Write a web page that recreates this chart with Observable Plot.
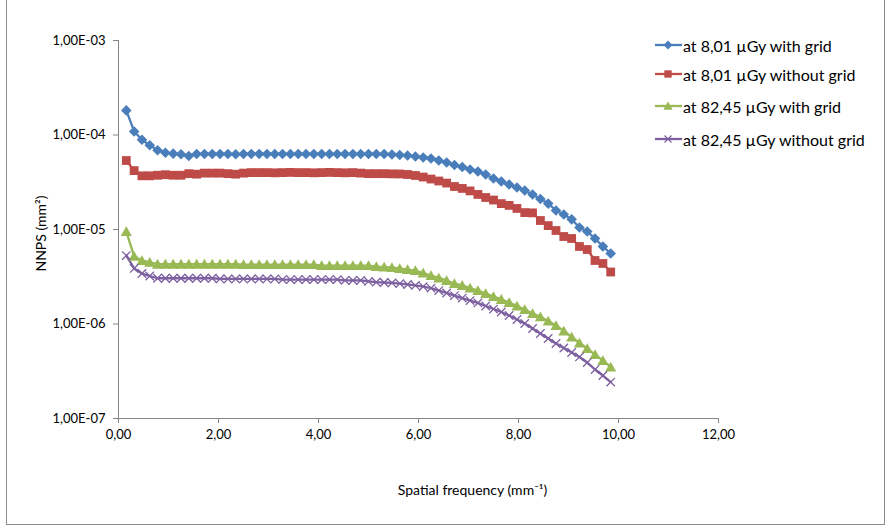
<!DOCTYPE html>
<html><head><meta charset="utf-8">
<script src="https://cdn.jsdelivr.net/npm/d3@7"></script>
<script src="https://cdn.jsdelivr.net/npm/@observablehq/plot@0.6"></script>
<style>
body{margin:0;background:#fff;}
#wrap{position:relative;width:890px;height:529px;font-family:Lato,"Open Sans",sans-serif;overflow:hidden;}
#box{position:absolute;left:6px;top:-2px;width:879px;height:527px;border:1px solid #8c8c8c;box-sizing:border-box;}
#chart{position:absolute;left:0;top:0;}
.lg{position:absolute;left:655px;height:18px;display:flex;align-items:center;font-size:16px;color:#000;white-space:nowrap;}
.lg svg{margin-right:1px;}
</style></head><body>
<div id="wrap"><div id="box"></div><div id="chart"></div><div id="legend"></div></div>
<script>
const freq = [0.156,0.313,0.469,0.625,0.781,0.938,1.094,1.25,1.406,1.563,1.719,1.875,2.031,2.188,2.344,2.5,2.656,2.813,2.969,3.125,3.281,3.438,3.594,3.75,3.906,4.063,4.219,4.375,4.531,4.688,4.844,5.0,5.156,5.313,5.469,5.625,5.781,5.938,6.094,6.25,6.406,6.563,6.719,6.875,7.031,7.188,7.344,7.5,7.656,7.813,7.969,8.125,8.281,8.438,8.594,8.75,8.906,9.063,9.219,9.375,9.531,9.688,9.844];

const seriesNames = ["at 8,01 µGy with grid","at 8,01 µGy without grid","at 82,45 µGy with grid","at 82,45 µGy without grid"];
const colors = ["#4A7EBB","#BE4B48","#98B954","#7D60A0"];

const blue = [1.82e-4,1.09e-4,8.9e-5,7.8e-5,6.9e-5,6.5e-5,6.35e-5,6.25e-5,6.0e-5,6.3e-5,6.3e-5,6.3e-5,6.3e-5,6.3e-5,6.25e-5,6.3e-5,6.3e-5,6.3e-5,6.3e-5,6.3e-5,6.3e-5,6.3e-5,6.3e-5,6.3e-5,6.3e-5,6.3e-5,6.3e-5,6.3e-5,6.3e-5,6.3e-5,6.3e-5,6.3e-5,6.29e-5,6.29e-5,6.22e-5,6.14e-5,6.07e-5,5.92e-5,5.78e-5,5.64e-5,5.37e-5,5.12e-5,4.81e-5,4.59e-5,4.31e-5,4.11e-5,3.82e-5,3.46e-5,3.22e-5,2.99e-5,2.78e-5,2.59e-5,2.35e-5,2.10e-5,1.88e-5,1.59e-5,1.44e-5,1.28e-5,1.05e-5,9.52e-6,8.03e-6,6.61e-6,5.57e-6];

const red = [5.37e-5,4.2e-5,3.7e-5,3.7e-5,3.75e-5,3.8e-5,3.75e-5,3.75e-5,3.9e-5,3.85e-5,3.95e-5,3.95e-5,3.95e-5,3.9e-5,3.85e-5,3.95e-5,4.0e-5,4.0e-5,4.0e-5,3.98e-5,4.0e-5,4.02e-5,4.0e-5,4.0e-5,3.98e-5,4.0e-5,4.02e-5,4.0e-5,3.98e-5,4.0e-5,3.95e-5,3.9e-5,3.9e-5,3.9e-5,3.88e-5,3.87e-5,3.82e-5,3.73e-5,3.59e-5,3.42e-5,3.26e-5,3.10e-5,2.85e-5,2.72e-5,2.56e-5,2.35e-5,2.18e-5,2.05e-5,1.88e-5,1.80e-5,1.67e-5,1.51e-5,1.50e-5,1.245e-5,1.10e-5,9.76e-6,8.43e-6,8.03e-6,6.61e-6,6.14e-6,4.70e-6,4.37e-6,3.55e-6];

const green = [9.5e-6,5.2e-6,4.7e-6,4.5e-6,4.3e-6,4.3e-6,4.3e-6,4.3e-6,4.3e-6,4.3e-6,4.3e-6,4.3e-6,4.3e-6,4.3e-6,4.3e-6,4.25e-6,4.25e-6,4.25e-6,4.25e-6,4.25e-6,4.25e-6,4.25e-6,4.25e-6,4.25e-6,4.25e-6,4.15e-6,4.15e-6,4.15e-6,4.15e-6,4.15e-6,4.15e-6,4.15e-6,4.05e-6,4.0e-6,3.96e-6,3.87e-6,3.77e-6,3.68e-6,3.46e-6,3.26e-6,3.07e-6,2.89e-6,2.68e-6,2.56e-6,2.40e-6,2.26e-6,2.10e-6,1.95e-6,1.82e-6,1.69e-6,1.55e-6,1.42e-6,1.29e-6,1.19e-6,1.076e-6,9.64e-7,8.43e-7,7.29e-7,6.29e-7,5.50e-7,4.75e-7,4.11e-7,3.51e-7];

const purple = [5.3e-6,3.87e-6,3.42e-6,3.22e-6,3.05e-6,3.05e-6,3.05e-6,3.05e-6,3.05e-6,3.05e-6,3.05e-6,3.05e-6,3.0e-6,3.0e-6,3.0e-6,3.0e-6,3.0e-6,3.0e-6,3.0e-6,3.0e-6,2.95e-6,2.95e-6,2.95e-6,2.95e-6,2.95e-6,2.95e-6,2.95e-6,2.95e-6,2.9e-6,2.9e-6,2.9e-6,2.82e-6,2.77e-6,2.75e-6,2.72e-6,2.68e-6,2.62e-6,2.56e-6,2.49e-6,2.40e-6,2.26e-6,2.13e-6,2.00e-6,1.88e-6,1.77e-6,1.67e-6,1.55e-6,1.44e-6,1.34e-6,1.23e-6,1.116e-6,1.012e-6,8.96e-7,7.93e-7,7.02e-7,6.22e-7,5.57e-7,4.99e-7,4.48e-7,3.91e-7,3.30e-7,2.85e-7,2.43e-7];

const yTicks = [1e-7,1e-6,1e-5,1e-4,1e-3];
const yTickLabels = ["1,00E-07","1,00E-06","1,00E-05","1,00E-04","1,00E-03"];
const xTicks = [0,2,4,6,8,10,12];
const xTickLabels = ["0,00","2,00","4,00","6,00","8,00","10,00","12,00"];
const xTitle = "Spatial frequency (mm⁻¹)";
const yTitle = "NNPS (mm²)";

const allSeries = [blue, red, green, purple];
const data = allSeries.flatMap((vals, i) => vals.map((v, j) => ({f: freq[j], v, s: seriesNames[i]})));

// custom marker shapes
const diamond = {draw(ctx, size){const r=Math.sqrt(size/Math.PI);ctx.moveTo(0,-r);ctx.lineTo(r,0);ctx.lineTo(0,r);ctx.lineTo(-r,0);ctx.closePath();}};
const square = {draw(ctx, size){const r=Math.sqrt(size/Math.PI);ctx.rect(-r,-r,2*r,2*r);}};
const triangle = {draw(ctx, size){const r=Math.sqrt(size/Math.PI);ctx.moveTo(0,-r);ctx.lineTo(r*1.05,r*0.85);ctx.lineTo(-r*1.05,r*0.85);ctx.closePath();}};
const times = {draw(ctx, size){const r=Math.sqrt(size/Math.PI);ctx.moveTo(-r,-r);ctx.lineTo(r,r);ctx.moveTo(r,-r);ctx.lineTo(-r,r);}};
const symbols = [diamond, square, triangle, times];
const radii = [5.3, 4.4, 5.3, 4.2];

const dotMarks = seriesNames.map((name, i) => Plot.dot(data.filter(d => d.s === name), {
  x: "f", y: "v", symbol: () => symbols[i], r: radii[i],
  fill: i === 3 ? "none" : colors[i], stroke: i === 3 ? colors[i] : "none", strokeWidth: 1.3
}));

const chart = Plot.plot({
  width: 890, height: 529,
  marginLeft: 118, marginRight: 172, marginTop: 40, marginBottom: 111,
  style: {fontFamily: "Lato, 'Open Sans', sans-serif", fontSize: "13px", color: "#000", background: "transparent", overflow: "visible"},
  x: {domain: [0, 12]},
  y: {type: "log", domain: [1e-7, 1e-3]},
  symbol: {type: "identity"},
  marks: [
    Plot.axisX({ticks: xTicks, tickFormat: d => xTickLabels[xTicks.indexOf(d)], tickSize: 5, tickPadding: 6, stroke: "#868686", fontSize: 13, label: xTitle, labelAnchor: "center", labelArrow: "none", labelOffset: 76}),
    Plot.axisY({ticks: yTicks, tickFormat: d => yTickLabels[yTicks.indexOf(d)], tickSize: 5, tickPadding: 8, stroke: "#868686", fontSize: 13, label: yTitle, labelAnchor: "center", labelArrow: "none", labelOffset: 82}),
    Plot.frame({anchor: "left", stroke: "#868686"}),
    Plot.frame({anchor: "bottom", stroke: "#868686"}),
    Plot.line(data, {x: "f", y: "v", z: "s", stroke: d => colors[seriesNames.indexOf(d.s)], strokeWidth: 2.3}),
    ...dotMarks
  ]
});
chart.querySelectorAll("[aria-label='x-axis label'], [aria-label='y-axis label']").forEach(g => g.setAttribute("font-size", "14"));
const xl = chart.querySelector("[aria-label='x-axis label']");
if (xl) xl.setAttribute("transform", ((xl.getAttribute("transform") || "") + " translate(54,0)").trim());
const yl = chart.querySelector("[aria-label='y-axis label']");
if (yl) yl.setAttribute("transform", ((yl.getAttribute("transform") || "") + " translate(0,4)").trim());
document.getElementById("chart").appendChild(chart);

// legend
const legendTops = [36, 65, 97, 130];
const lg = document.getElementById("legend");
seriesNames.forEach((name, i) => {
  const row = document.createElement("div");
  row.className = "lg";
  row.style.top = legendTops[i] + "px";
  const svg = d3.create("svg").attr("width", 27).attr("height", 16);
  svg.append("line").attr("x1", 0).attr("x2", 27).attr("y1", 8).attr("y2", 8).attr("stroke", colors[i]).attr("stroke-width", 2.3);
  const p = d3.path(); symbols[i].draw(p, Math.PI * radii[i] * radii[i] * 0.7);
  svg.append("path").attr("d", p.toString()).attr("transform", "translate(13,8)")
    .attr("fill", i === 3 ? "none" : colors[i]).attr("stroke", i === 3 ? colors[i] : "none").attr("stroke-width", 1.2);
  row.appendChild(svg.node());
  const t = document.createElement("span"); t.textContent = name; row.appendChild(t);
  lg.appendChild(row);
});
</script>
</body></html>
